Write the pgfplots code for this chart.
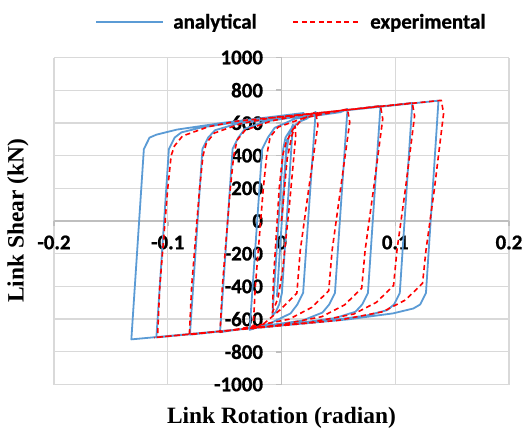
\documentclass[border=0pt]{standalone}
\usepackage{fontspec}
\setmainfont{Carlito}[BoldFont={Carlito Bold}, BoldFeatures={FakeBold=0.8}]
\newfontfamily\timesfont{Liberation Serif}
\usepackage{pgfplots}
\pgfplotsset{compat=1.18}
\definecolor{ablue}{HTML}{5B9BD5}
\definecolor{gridgray}{HTML}{D9D9D9}
\definecolor{axgray}{HTML}{BFBFBF}
\begin{document}
\begin{tikzpicture}
\begin{axis}[
  scale only axis, width=455bp, height=327bp,
  xmin=-0.2, xmax=0.2, ymin=-1000, ymax=1000,
  axis lines=middle,
  hide obscured x ticks=false, hide obscured y ticks=false,
  axis line style={draw=axgray, line width=1.8bp, -},
  xtick={-0.2,-0.1,0,0.1,0.2},
  xticklabels={-0.2,-0.1,0,0.1,0.2},
  ytick={-1000,-800,-600,-400,-200,0,200,400,600,800,1000},
  yticklabels={-1000,-800,-600,-400,-200,0,200,400,600,800,1000},
  grid=major,
  major grid style={draw=gridgray, line width=1.3bp},
  tick align=outside, major tick length=5bp,
  tick style={draw=axgray, line width=1.5bp},
  ticklabel style={font=\fontsize{21}{22}\selectfont\bfseries},
  xticklabel style={anchor=north, yshift=-6bp},
  yticklabel style={anchor=east, xshift=-10bp},
  xlabel={Link Rotation (radian)},
  ylabel={Link Shear (kN)},
  xlabel style={at={(axis description cs:0.5,-0.1015)}, anchor=center, font=\timesfont\bfseries\fontsize{23.5}{25}\selectfont},
  ylabel style={at={(axis description cs:-0.0791,0.5)}, anchor=center, rotate=90, font=\timesfont\bfseries\fontsize{23.5}{25}\selectfont},
  legend style={at={(0.522,1.1086)}, anchor=center, draw=none, fill=none, legend columns=2,
    font=\fontsize{21}{22}\selectfont\bfseries,
    /tikz/every odd column/.append style={column sep=7bp},
    /tikz/every even column/.append style={column sep=34bp}},
  legend image code/.code={\draw[#1] (0bp,0bp) -- (67bp,0bp);},
]
\addplot[ablue, line width=1.8bp, line join=round] coordinates {
(0,0) (0.004,430) (0.005,500)
(-0.004,-460)
(0.004,400) (0.006,500) (0.008,550) (0.010,590)
(0.0004,-440) (-0.002,-510) (-0.005,-555) (-0.008,-580)
(0.0015,440) (0.0035,510) (0.008,560) (0.015,605) (0.022,625) (0.030,667)
(0.019,-440) (0.014,-510) (0.008,-565) (-0.010,-626) (-0.028,-666)
(-0.017,440) (-0.012,510) (-0.006,570) (0.012,626) (0.052,666) (0.058,685)
(0.047,-440) (0.042,-510) (0.036,-560) (0.018,-610) (-0.022,-647) (-0.054,-680)
(-0.043,440) (-0.038,510) (-0.032,565) (-0.014,609) (0.026,650) (0.087,704)
(0.076,-440) (0.071,-510) (0.065,-555) (0.047,-594) (0.007,-631) (-0.0805,-695)
(-0.0695,440) (-0.0645,510) (-0.0585,555) (-0.0405,592) (-0.0005,633) (0.115,722)
(0.104,-440) (0.099,-510) (0.093,-545) (0.075,-578) (0.035,-615) (-0.110,-712)
(-0.099,440) (-0.094,510) (-0.088,542) (-0.070,573) (-0.030,614) (0.138,736)
(0.127,-440) (0.122,-510) (0.116,-535) (0.098,-565) (0.058,-602) (-0.132,-724)
(-0.121,440) (-0.116,510) (-0.110,528) (-0.092,559) (-0.052,600) (0.020,661)
};
\addlegendentry{analytical}
\addplot[red, line width=1.6bp, line join=round, dash pattern=on 5bp off 3.5bp] coordinates {
(0,0) (0.005,380) (0.009,520) (0.012,580)
(0.0125,520) (0.007,100) (0.001,-300) (-0.003,-470) (-0.008,-560)
(-0.007,-350) (-0.002,200) (0.001,400) (0.004,480) (0.010,560) (0.018,620) (0.030,667)
(0.032,587) (0.024,200) (0.0165,-180) (0.0135,-442) (-0.0015,-545) (-0.015,-625) (-0.025,-664)
(-0.023,-400) (-0.016,200) (-0.013,400) (-0.010,514) (-0.003,574) (0.020,631) (0.045,665) (0.058,685)
(0.060,605) (0.052,200) (0.0445,-180) (0.0415,-427) (0.0265,-529) (0.0065,-601) (-0.032,-653) (-0.054,-680)
(-0.052,-400) (-0.045,200) (-0.042,400) (-0.039,495) (-0.032,555) (-0.009,612) (0.016,646) (0.087,704)
(0.089,624) (0.081,200) (0.0735,-180) (0.0705,-411) (0.0555,-513) (0.0355,-585) (-0.003,-637) (-0.081,-695)
(-0.079,-400) (-0.072,200) (-0.069,400) (-0.066,478) (-0.059,538) (-0.036,595) (-0.011,629) (0.115,722)
(0.117,642) (0.109,200) (0.1015,-180) (0.0985,-395) (0.0835,-497) (0.0635,-569) (0.025,-621) (-0.109,-711)
(-0.107,-400) (-0.100,200) (-0.097,400) (-0.094,460) (-0.087,520) (-0.064,577) (-0.039,611) (0.1405,738)
(0.1425,658) (0.1345,200) (0.127,-180) (0.124,-381) (0.109,-483) (0.089,-555) (0.0505,-607) (-0.112,-713)
};
\addlegendentry{experimental}
\coordinate (sw) at (rel axis cs:0,0);
\coordinate (ne) at (rel axis cs:1,1);
\end{axis}
\path ([shift={(-54bp,-45.5bp)}]sw) rectangle ([shift={(20bp,57.5bp)}]ne);
\end{tikzpicture}
\end{document}
